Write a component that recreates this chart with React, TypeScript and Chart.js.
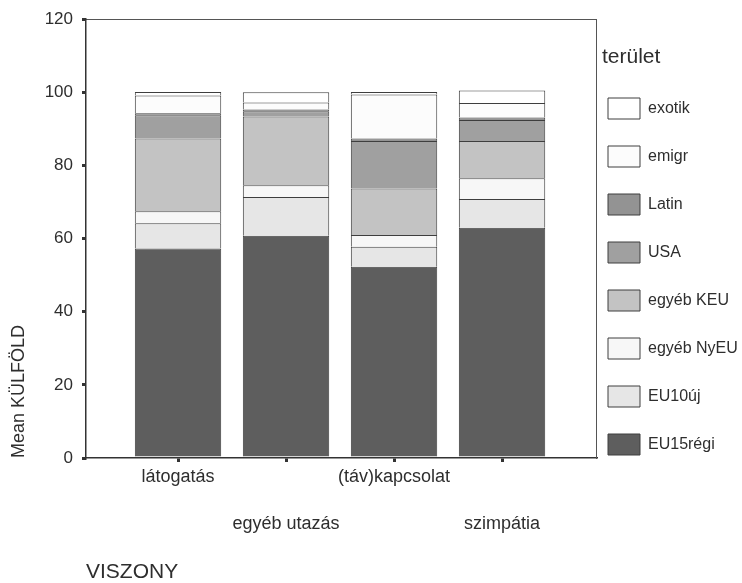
import React, { useEffect, useRef } from 'react';
import { Chart, registerables } from 'chart.js';

Chart.register(...registerables);

// ---- data ----
const categories = ['látogatás', 'egyéb utazás', '(táv)kapcsolat', 'szimpátia'];
const seriesNames = ['EU15régi', 'EU10új', 'egyéb NyEU', 'egyéb KEU', 'USA', 'Latin', 'emigr', 'exotik'];
const eu15regi = [57.3, 60.8, 52.3, 63.0];
const eu10uj = [6.9, 10.6, 5.5, 7.8];
const egyebNyEU = [3.3, 3.2, 3.2, 5.7];
const egyebKEU = [19.9, 18.8, 12.7, 10.2];
const usa = [6.3, 1.4, 13.0, 5.7];
const latin = [0.6, 0.5, 0.7, 0.7];
const emigr = [4.8, 1.9, 12.0, 4.0];
const exotik = [1.0, 2.8, 0.7, 3.4];
const seriesValues = [eu15regi, eu10uj, egyebNyEU, egyebKEU, usa, latin, emigr, exotik];
const yMin = 0;
const yMax = 120;
const yStep = 20;
const yTitle = 'Mean KÜLFÖLD';
const xTitle = 'VISZONY';
const legendTitle = 'terület';

// ---- styles ----
const seriesColors = ['#5e5e5e', '#e6e6e6', '#f7f7f7', '#c3c3c3', '#a0a0a0', '#939393', '#fcfcfc', '#ffffff'];
const textColor = '#2e2e2e';
const FONT = "'Liberation Sans', Arial, Helvetica, sans-serif";

export default function App() {
  const ref = useRef<HTMLCanvasElement>(null);

  useEffect(() => {
    Chart.defaults.font.family = FONT;
    const positions = categories.map((_, i) => i + 1);
    const xMin = 0.148;
    const xMax = 4.87;
    const setTicks = (axis: any) => {
      axis.ticks = positions.map((v) => ({ value: v }));
    };
    const labelFor = (row: number) => (value: any) => {
      const i = Math.round(Number(value)) - 1;
      return i >= 0 && i < categories.length && i % 2 === row ? categories[i] : '';
    };

    const chart = new Chart(ref.current as HTMLCanvasElement, {
      type: 'bar',
      data: {
        datasets: seriesNames.map((name, s) => ({
          label: name,
          data: seriesValues[s].map((v, i) => ({ x: positions[i], y: v })),
          backgroundColor: seriesColors[s],
          borderColor: '#3e3e3e',
          borderWidth: 1,
          barPercentage: 1,
          categoryPercentage: 0.8,
          stack: 'all',
          xAxisID: 'x',
          yAxisID: 'y',
        })),
      },
      options: {
        responsive: false,
        animation: false,
        layout: { padding: { top: 19, right: 0, bottom: 0, left: 0 } },
        plugins: {
          tooltip: { enabled: false },
          legend: {
            position: 'right',
            align: 'start',
            reverse: true,
            maxWidth: 140,
            title: {
              display: true,
              text: legendTitle,
              position: 'start',
              color: textColor,
              font: { size: 21, family: FONT },
              padding: { top: 27.5, bottom: 20.3 },
            },
            labels: {
              boxWidth: 32,
              boxHeight: 21,
              padding: 6,
              color: textColor,
              font: { size: 16, lineHeight: '42px', family: FONT },
              generateLabels: (c: any) =>
                Chart.defaults.plugins.legend.labels
                  .generateLabels(c)
                  .map((l: any) => ({ ...l, text: [l.text] })),
            },
          },
        },
        scales: {
          x: {
            type: 'linear',
            position: 'bottom',
            weight: 0,
            stacked: true,
            offset: false,
            min: xMin,
            max: xMax,
            afterBuildTicks: setTicks,
            afterFit: (s: any) => {
              s.height = 29;
            },
            grid: { display: true, offset: false, drawOnChartArea: false, drawTicks: true, tickLength: 4, lineWidth: 3, color: '#333' },
            border: { display: true, width: 1.5, color: '#333' },
            ticks: { padding: 4, autoSkip: false, maxRotation: 0, color: textColor, font: { size: 18 }, callback: labelFor(0) },
          },
          x2: {
            type: 'linear',
            position: 'bottom',
            weight: 1,
            offset: false,
            min: xMin,
            max: xMax,
            afterBuildTicks: setTicks,
            afterFit: (s: any) => {
              s.height = 96;
            },
            grid: { display: false, offset: false },
            border: { display: false },
            ticks: { padding: 18, autoSkip: false, maxRotation: 0, color: textColor, font: { size: 18 }, callback: labelFor(1) },
            title: {
              display: true,
              text: xTitle,
              align: 'start',
              color: textColor,
              font: { size: 21, lineHeight: 1 },
              padding: { top: 0, bottom: 0 },
            },
          },
          xTop: {
            type: 'linear',
            position: 'top',
            display: true,
            offset: false,
            min: xMin,
            max: xMax,
            afterFit: (s: any) => {
              s.height = 0;
            },
            grid: { display: false, offset: false },
            ticks: { display: false },
            border: { display: true, width: 1, color: '#555' },
          },
          y: {
            type: 'linear',
            position: 'left',
            stacked: true,
            min: yMin,
            max: yMax,
            afterFit: (s: any) => {
              s.width = 86;
            },
            grid: { display: true, drawOnChartArea: false, drawTicks: true, tickLength: 4, lineWidth: 3, color: '#333' },
            border: { display: true, width: 1.5, color: '#333' },
            ticks: { stepSize: yStep, padding: 9, color: textColor, font: { size: 17 } },
            title: {
              display: true,
              text: yTitle,
              align: 'start',
              color: textColor,
              font: { size: 18, lineHeight: 1 },
              padding: { top: 10, bottom: 0 },
            },
          },
          y2: {
            type: 'linear',
            position: 'right',
            display: true,
            min: yMin,
            max: yMax,
            afterFit: (s: any) => {
              s.width = 6;
            },
            grid: { display: false },
            ticks: { display: false },
            border: { display: true, width: 1, color: '#555' },
          },
        },
      } as any,
    });
    return () => chart.destroy();
  }, []);

  return (
    <div style={{ width: 742, height: 583 }}>
      <style>{'html,body{margin:0;padding:0;background:#fff;}'}</style>
      <canvas ref={ref} width={742} height={583} style={{ display: 'block' }} />
    </div>
  );
}
